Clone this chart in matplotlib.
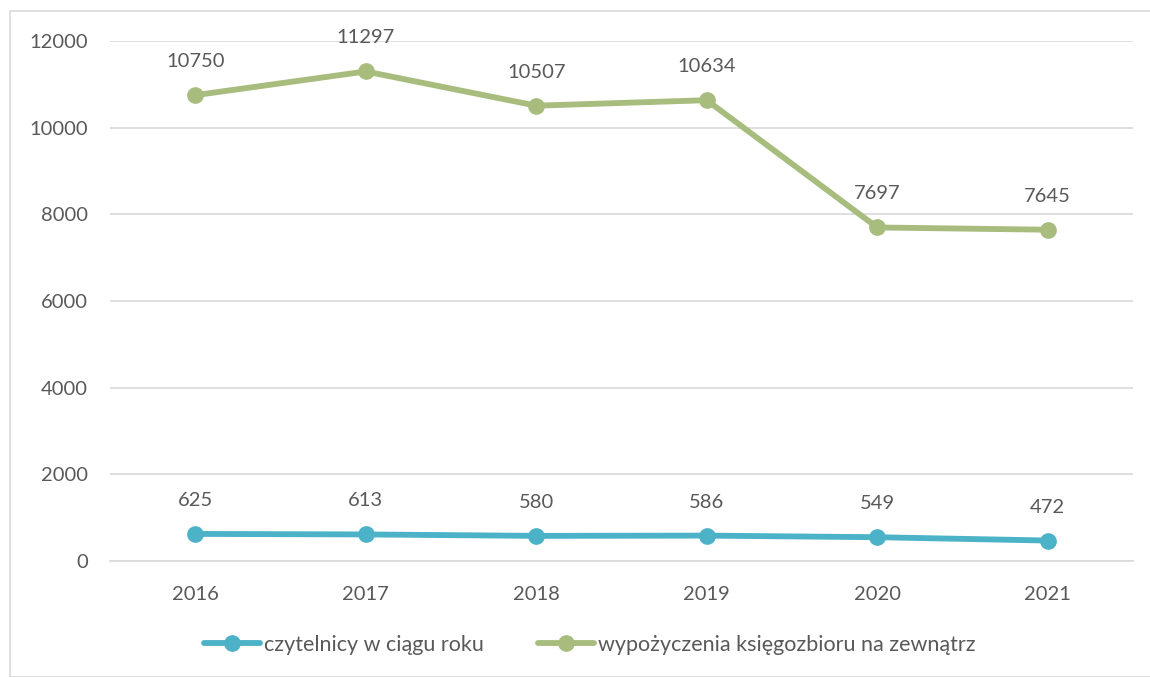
import matplotlib
matplotlib.use("Agg")
import matplotlib.pyplot as plt
from matplotlib.patches import Rectangle
from matplotlib.lines import Line2D

years = ["2016", "2017", "2018", "2019", "2020", "2021"]
czytelnicy = [625, 613, 580, 586, 549, 472]
wypozyczenia = [10750, 11297, 10507, 10634, 7697, 7645]
series_names = ["czytelnicy w ciągu roku", "wypożyczenia księgozbioru na zewnątrz"]
yticks = [0, 2000, 4000, 6000, 8000, 10000, 12000]

plt.rcParams['font.family'] = ['Lato', 'DejaVu Sans']
txt = '#595959'
c1 = '#4bb2c8'
c2 = '#a7bc7d'
fs = 14.5

fig = plt.figure(figsize=(11.5, 6.77), dpi=100)
fig.patches.append(Rectangle((10/1150, 0), 1.2, 1 - 11/677, transform=fig.transFigure,
                             fill=False, edgecolor='#d9d9d9', linewidth=1.2))
ax = fig.add_axes([110/1150, 1 - 561/677, 1023/1150, 520/677])

x = list(range(len(years)))
for vals, c, name in [(czytelnicy, c1, series_names[0]), (wypozyczenia, c2, series_names[1])]:
    ax.plot(x, vals, color=c, lw=4.2, marker='o', ms=11, solid_capstyle='round', label=name, zorder=3)
    for xi, v in zip(x, vals):
        ax.annotate(str(v), (xi, v), xytext=(0, 18), textcoords='offset points',
                    ha='center', va='bottom', fontsize=fs, color=txt)

ax.set_xlim(-0.5, len(years) - 0.5)
ax.set_ylim(0, 12000)
ax.set_yticks(yticks)
ax.set_xticks(x)
ax.set_xticklabels(years)
ax.grid(axis='y', color='#d9d9d9', lw=1.2)
ax.set_axisbelow(True)
for s in ['top', 'right', 'left']:
    ax.spines[s].set_visible(False)
ax.spines['bottom'].set_color('#d9d9d9')
ax.spines['bottom'].set_linewidth(1.2)
ax.tick_params(length=0, labelsize=fs, colors=txt)
ax.tick_params(axis='y', pad=16)
ax.tick_params(axis='x', pad=18)

handles = [Line2D([], [], color=c1, lw=4.2, marker='o', ms=11, solid_capstyle='round'),
           Line2D([], [], color=c2, lw=4.2, marker='o', ms=11, solid_capstyle='round')]
fig.legend(handles, series_names, loc='center', bbox_to_anchor=(590/1150, 1 - 645/677),
           ncol=2, frameon=False, fontsize=15.5, labelcolor=txt, handlelength=2.6,
           handletextpad=0.2, columnspacing=2.5)

fig.savefig('out.png', dpi=100)
